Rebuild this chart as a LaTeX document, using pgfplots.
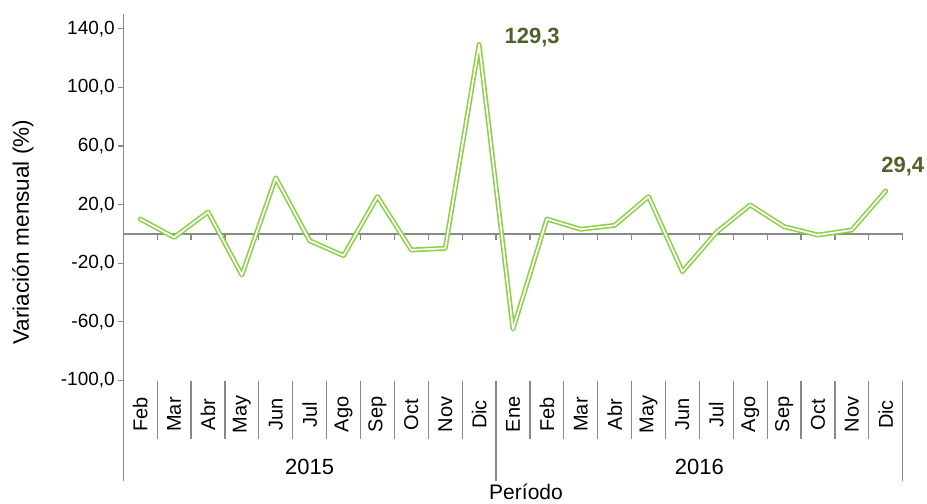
\documentclass[border=0pt]{standalone}
\usepackage{pgfplots}
\pgfplotsset{compat=1.18}
\usepackage{fontspec}
\setmainfont{Liberation Sans}
\definecolor{axisgray}{HTML}{898989}
\definecolor{linegreen}{HTML}{8CCF48}
\definecolor{labelolive}{HTML}{4F6228}
\begin{document}
\begin{tikzpicture}
\useasboundingbox (-123.3bp,-123.5bp) rectangle (803.7bp,380.5bp);
\begin{axis}[
  at={(0,0)}, anchor=south west,
  scale only axis, width=779.4bp, height=366.3bp,
  xmin=-0.5, xmax=22.5, ymin=-100, ymax=150,
  clip=false,
  axis lines*=left,
  x axis line style={draw=none},
  y axis line style={axisgray, line width=1.2bp, -},
  xtick={0,...,22},
  xticklabels={Feb,Mar,Abr,May,Jun,Jul,Ago,Sep,Oct,Nov,Dic,Ene,Feb,Mar,Abr,May,Jun,Jul,Ago,Sep,Oct,Nov,Dic},
  xtick style={draw=none},
  ytick={-100,-60,-20,20,60,100,140},
  ytick style={axisgray, line width=1.2bp},
  tick align=outside,
  major tick length=5bp,
  /pgf/number format/assume math mode=true,
  yticklabel style={font=\fontsize{19bp}{22bp}\selectfont, /pgf/number format/.cd, fixed, fixed zerofill, precision=1, use comma},
  xticklabel style={font=\fontsize{20bp}{22bp}\selectfont, rotate=90, anchor=center, inner sep=0pt},
  xticklabel shift=29bp,
  ylabel={Variación mensual (\%)},
  ylabel style={font=\fontsize{22.5bp}{26bp}\selectfont, at={(axis description cs:-0.1287,0.405)}, anchor=center},
  xlabel={Período},
  xlabel style={font=\fontsize{21bp}{24bp}\selectfont, at={(axis description cs:0.5167,0)}, anchor=center, yshift=-111bp},
]
% zero line and its ticks
\draw[axisgray, line width=1.2bp] (axis cs:-0.5,0) -- (axis cs:22.5,0);
\pgfplotsinvokeforeach{0.5,1.5,2.5,3.5,4.5,5.5,6.5,7.5,8.5,9.5,10.5,11.5,12.5,13.5,14.5,15.5,16.5,17.5,18.5,19.5,20.5,21.5,22.5}{
  \draw[axisgray, line width=1.2bp] (axis cs:#1,0) -- ([yshift=-6bp]axis cs:#1,0);
}
% category separators
\pgfplotsinvokeforeach{0.5,1.5,2.5,3.5,4.5,5.5,6.5,7.5,8.5,9.5,11.5,12.5,13.5,14.5,15.5,16.5,17.5,18.5,19.5,20.5,21.5}{
  \draw[axisgray, line width=1.2bp] (axis cs:#1,-100) -- ([yshift=-58bp]axis cs:#1,-100);
}
\pgfplotsinvokeforeach{-0.5,10.5,22.5}{
  \draw[axisgray, line width=1.2bp] (axis cs:#1,-100) -- ([yshift=-100bp]axis cs:#1,-100);
}
\node[font=\fontsize{22bp}{26bp}\selectfont] at (axis cs:5,-100) [yshift=-86.5bp] {2015};
\node[font=\fontsize{22bp}{26bp}\selectfont] at (axis cs:16.5,-100) [yshift=-86.5bp] {2016};
% data
\addplot[draw=linegreen, line width=1.6bp, double=white, double distance=1.7bp, line join=round, line cap=round] coordinates {
(0,10.2) (1,-2.3) (2,15.0) (3,-28.0) (4,38.4) (5,-4.6) (6,-14.8) (7,25.5) (8,-10.9) (9,-9.8) (10,129.3)
(11,-65.0) (12,10.2) (13,3.2) (14,5.9) (15,25.5) (16,-25.7) (17,1.1) (18,19.8) (19,5.0) (20,-0.7) (21,2.7) (22,29.4)
};
\node[font=\bfseries\fontsize{22bp}{26bp}\selectfont, text=labelolive] at (axis cs:10,129.3) [xshift=53bp, yshift=6.6bp] {129,3};
\node[font=\bfseries\fontsize{22bp}{26bp}\selectfont, text=labelolive] at (axis cs:22,29.4) [xshift=17bp, yshift=24bp] {29,4};
\end{axis}
\end{tikzpicture}
\end{document}
